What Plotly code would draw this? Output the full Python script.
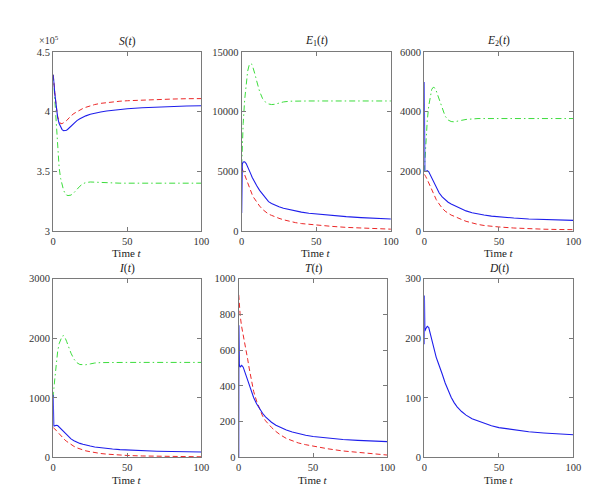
import plotly.graph_objects as go

# ---------------- data ----------------
t = [0, 0.1, 0.4, 1, 2, 3, 4, 5, 6, 7, 8, 9, 10, 12, 14, 16, 18, 20, 22, 25,
     28, 32, 36, 40, 45, 50, 60, 70, 80, 90, 100]

# S(t), in units of 1e5
S_blue = [4.31, 4.30, 4.25, 4.16, 4.03, 3.95, 3.90, 3.87, 3.85, 3.84, 3.84, 3.845, 3.855, 3.88,
          3.905, 3.925, 3.94, 3.955, 3.965, 3.978, 3.988, 3.998, 4.006, 4.012, 4.018, 4.025,
          4.033, 4.04, 4.045, 4.048, 4.05]
S_red = [4.31, 4.30, 4.26, 4.17, 4.05, 3.96, 3.92, 3.90, 3.90, 3.905, 3.915, 3.925, 3.94, 3.965,
         3.985, 4.0, 4.015, 4.027, 4.037, 4.05, 4.06, 4.07, 4.077, 4.083, 4.088, 4.092,
         4.098, 4.103, 4.106, 4.109, 4.11]
S_green = [4.31, 4.29, 4.23, 4.10, 3.86, 3.66, 3.53, 3.44, 3.38, 3.34, 3.315, 3.30, 3.296, 3.30,
           3.32, 3.35, 3.375, 3.395, 3.405, 3.41, 3.408, 3.404, 3.401, 3.40, 3.40, 3.40,
           3.40, 3.40, 3.40, 3.40, 3.40]

E1_blue = [1500, 5000, 5600, 5780, 5800, 5650, 5400, 5100, 4800, 4500, 4250, 4000, 3800, 3400,
           3050, 2750, 2450, 2300, 2170, 2020, 1900, 1770, 1660, 1570, 1480, 1410, 1290,
           1190, 1110, 1050, 990]
E1_red = [5300, 5250, 5150, 5000, 4700, 4350, 4000, 3700, 3350, 3050, 2800, 2600, 2420, 2080,
          1800, 1570, 1400, 1300, 1190, 1050, 930, 800, 690, 610, 540, 480, 380, 290, 220,
          170, 140]
E1_green = [5500, 6000, 7500, 9000, 11000, 12500, 13400, 13900, 14050, 13950, 13600, 13100,
            12600, 11700, 11100, 10800, 10650, 10600, 10620, 10720, 10820, 10880, 10900,
            10900, 10900, 10900, 10900, 10900, 10900, 10900, 10900]

E2_blue = [5000, 2100, 1990, 1990, 2020, 1980, 1880, 1770, 1660, 1550, 1450, 1350, 1270, 1140,
           1040, 960, 900, 850, 800, 730, 670, 610, 565, 530, 495, 470, 430, 400, 380, 360, 350]
E2_red = [1900, 1895, 1870, 1820, 1720, 1600, 1480, 1360, 1250, 1150, 1050, 970, 890, 760,
          660, 580, 530, 490, 440, 380, 320, 260, 215, 180, 150, 130, 95, 70, 55, 45, 40]
E2_green = [2000, 2100, 2500, 3000, 3700, 4200, 4550, 4750, 4820, 4800, 4700, 4550, 4380, 4080,
            3850, 3720, 3670, 3660, 3670, 3710, 3740, 3760, 3770, 3770, 3770, 3770, 3770,
            3770, 3770, 3770, 3770]

I_blue = [1050, 540, 530, 530, 540, 535, 510, 480, 450, 420, 395, 370, 350, 310, 280, 255, 235,
          220, 205, 190, 175, 160, 150, 140, 130, 123, 112, 104, 98, 93, 90]
I_red = [500, 498, 492, 480, 455, 425, 395, 365, 340, 315, 290, 270, 250, 215, 185, 160, 140,
         125, 110, 95, 80, 65, 55, 46, 38, 32, 24, 18, 14, 12, 10]
I_green = [1000, 1080, 1150, 1300, 1580, 1780, 1910, 1990, 2035, 2045, 2010, 1950, 1880, 1750,
           1650, 1590, 1560, 1552, 1556, 1570, 1585, 1592, 1595, 1595, 1595, 1595, 1595,
           1595, 1595, 1595, 1595]

T_blue = [0, 740, 520, 505, 515, 505, 480, 455, 425, 400, 378, 356, 335, 300, 272, 247, 227,
          210, 197, 180, 167, 153, 142, 133, 124, 117, 107, 100, 95, 91, 88]
T_red = [910, 890, 850, 790, 730, 690, 650, 600, 550, 500, 455, 410, 370, 315, 270, 232, 205,
         185, 168, 145, 126, 106, 92, 81, 71, 63, 48, 36, 27, 19, 13]

D_blue = [190, 272, 212, 216, 220, 218, 208, 196, 185, 177, 168, 161, 155, 140, 125, 112, 101,
          92, 85, 77, 71, 65, 61, 57, 53, 50, 46, 43, 41, 39, 38]

x_ticks = [0, 50, 100]
S_ticks = [3, 3.5, 4, 4.5]
E1_ticks = [0, 5000, 10000, 15000]
E2_ticks = [0, 2000, 4000, 6000]
I_ticks = [0, 1000, 2000, 3000]
T_ticks = [0, 200, 400, 600, 800, 1000]
D_ticks = [0, 100, 200, 300]

titles = ["<i>S</i>(<i>t</i>)", "<i>E</i><sub>1</sub>(<i>t</i>)", "<i>E</i><sub>2</sub>(<i>t</i>)",
          "<i>I</i>(<i>t</i>)", "<i>T</i>(<i>t</i>)", "<i>D</i>(<i>t</i>)"]

# ---------------- layout ----------------
W, H = 600, 504
FONT = "Liberation Serif, Times New Roman, serif"
BLUE = "rgb(30,30,235)"
RED = "rgb(235,40,40)"
GREEN = "rgb(60,220,60)"

# panel pixel boxes: (left, right, top, bottom)
boxes = [(43, 194, 40, 222.7), (235, 387, 40, 222.7), (421, 573, 40, 222.7),
         (43, 194, 271.7, 454.3), (232, 383.5, 271.7, 454.3), (421, 573, 271.7, 454.3)]

panels = [
    ([("b", S_blue), ("r", S_red), ("g", S_green)], S_ticks, [3, 4.5], ".1f"),
    ([("b", E1_blue), ("r", E1_red), ("g", E1_green)], E1_ticks, [0, 15000], "d"),
    ([("b", E2_blue), ("r", E2_red), ("g", E2_green)], E2_ticks, [0, 6000], "d"),
    ([("b", I_blue), ("r", I_red), ("g", I_green)], I_ticks, [0, 3000], "d"),
    ([("b", T_blue), ("r", T_red)], T_ticks, [0, 1000], "d"),
    ([("b", D_blue)], D_ticks, [0, 300], "d"),
]
S_labels = ["3", "3.5", "4", "4.5"]

styles = {
    "b": dict(color=BLUE, width=1.1, dash="solid"),
    "r": dict(color=RED, width=1.0, dash="5px,3px"),
    "g": dict(color=GREEN, width=1.0, dash="6px,3px,1.5px,3px"),
}
order = {"g": 0, "r": 1, "b": 2}

fig = go.Figure()
layout = dict(width=W, height=H, margin=dict(l=0, r=0, t=0, b=0),
              paper_bgcolor="white", plot_bgcolor="white", showlegend=False,
              font=dict(family=FONT, size=10, color="#333333"))
annotations = []

for i, (series, yticks, yrange, fmt) in enumerate(panels):
    n = i + 1
    xa = "xaxis" if n == 1 else f"xaxis{n}"
    ya = "yaxis" if n == 1 else f"yaxis{n}"
    xref = "x" if n == 1 else f"x{n}"
    yref = "y" if n == 1 else f"y{n}"
    l, r, tp, bt = boxes[i]
    common = dict(showline=True, mirror="ticks", linecolor="#7a7a7a", linewidth=1.3,
                  ticks="inside", ticklen=4, tickcolor="#7a7a7a", tickwidth=1,
                  showgrid=False, zeroline=False,
                  tickfont=dict(family=FONT, size=10.5, color="#333333"))
    layout[xa] = dict(domain=[l / W, r / W], range=[0, 100], tickvals=x_ticks,
                      tickformat="d", anchor=yref, **common)
    ydict = dict(domain=[1 - bt / H, 1 - tp / H], range=yrange, tickvals=yticks,
                 anchor=xref, **common)
    if i == 0:
        ydict["ticktext"] = S_labels
    else:
        ydict["tickformat"] = fmt
    layout[ya] = ydict
    for key, vals in sorted(series, key=lambda s: order[s[0]]):
        fig.add_trace(go.Scatter(x=t, y=vals, mode="lines", line=styles[key],
                                 xaxis=xref, yaxis=yref, hoverinfo="skip"))
    cx = (l + r) / 2 / W
    annotations.append(dict(text=titles[i], x=cx, y=1 - (tp - 11) / H, xref="paper",
                            yref="paper", showarrow=False, xanchor="center", yanchor="middle",
                            font=dict(family=FONT, size=11.5, color="#222222")))
    annotations.append(dict(text="Time <i>t</i>", x=cx, y=1 - (bt + 23) / H, xref="paper",
                            yref="paper", showarrow=False, xanchor="center", yanchor="middle",
                            font=dict(family=FONT, size=11, color="#222222")))

annotations.append(dict(text="×10<sup>5</sup>", x=26 / W, y=1 - 28 / H, xref="paper",
                        yref="paper", showarrow=False, xanchor="left", yanchor="middle",
                        font=dict(family=FONT, size=10, color="#333333")))
layout["annotations"] = annotations
fig.update_layout(**layout)
fig.write_html("out.html")
